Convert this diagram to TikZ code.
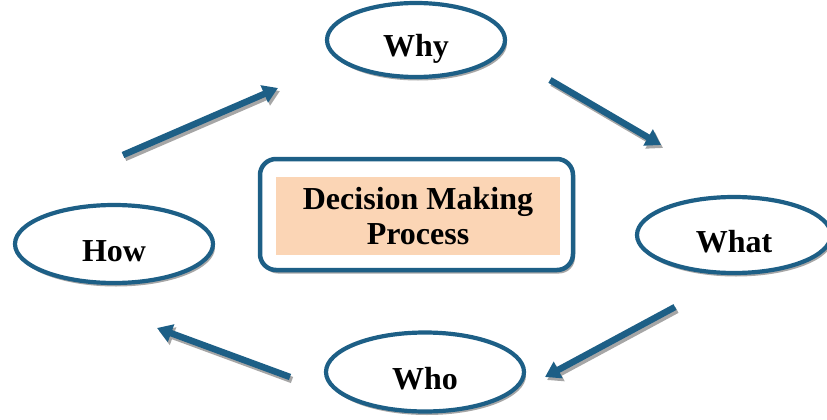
\documentclass[tikz,border=0pt]{standalone}
\usepackage{fontspec}
\setmainfont{Liberation Serif}
\usetikzlibrary{shapes.geometric,arrows.meta,shadows}
\definecolor{teal1}{HTML}{1D5F86}
\definecolor{peach}{HTML}{FBD5B5}
\definecolor{shadowgray}{HTML}{A6A6A6}
\tikzset{
  oval/.style={ellipse, draw=teal1, line width=4.2pt, fill=white, inner sep=0pt,
    font=\fontsize{32}{36}\selectfont\bfseries, text height=34pt, text depth=0pt,
    drop shadow={shadow xshift=2pt, shadow yshift=-3.5pt, fill=shadowgray, opacity=1}},
  flow/.style={draw=teal1, line width=6.5pt, -{Triangle[length=15pt,width=18pt]}},
  flowshadow/.style={draw=shadowgray, line width=6.5pt, -{Triangle[length=15pt,width=18pt]},
    transform canvas={shift={(2pt,-3pt)}}},
}
\begin{document}
\begin{tikzpicture}[x=1pt,y=-1pt]
\useasboundingbox (0,0) rectangle (827,420);
% ellipses
\node[oval, minimum width=178pt, minimum height=74pt] (why) at (416,40) {Why};
\node[oval, minimum width=194pt, minimum height=76pt] (what) at (734,235) {What};
\node[oval, minimum width=198pt, minimum height=78pt] (how) at (114,244) {How};
\node[oval, minimum width=198pt, minimum height=79pt] (who) at (425,372) {Who};
% central box
\node[draw=teal1, line width=4.5pt, fill=white, rounded corners=16pt,
  minimum width=313pt, minimum height=111pt, inner sep=0pt,
  drop shadow={shadow xshift=2pt, shadow yshift=-3.5pt, fill=shadowgray, opacity=1}]
  (frame) at (416.5,214.5) {};
\node[fill=peach, minimum width=284pt, minimum height=78pt, inner sep=0pt,
  align=center, font=\fontsize{32}{35}\selectfont\bfseries]
  (center) at (418,216) {Decision Making\\Process};
% arrow end points
\coordinate (a1s) at (123,155); \coordinate (a1e) at (278,88);
\coordinate (a2s) at (550,80);  \coordinate (a2e) at (661,145);
\coordinate (a3s) at (675,307); \coordinate (a3e) at (545,377);
\coordinate (a4s) at (290,377); \coordinate (a4e) at (157,328);
\foreach \s/\e in {a1s/a1e,a2s/a2e,a3s/a3e,a4s/a4e}{
  \draw[flowshadow] (\s) -- (\e);
  \draw[flow] (\s) -- (\e);
}
\end{tikzpicture}
\end{document}
